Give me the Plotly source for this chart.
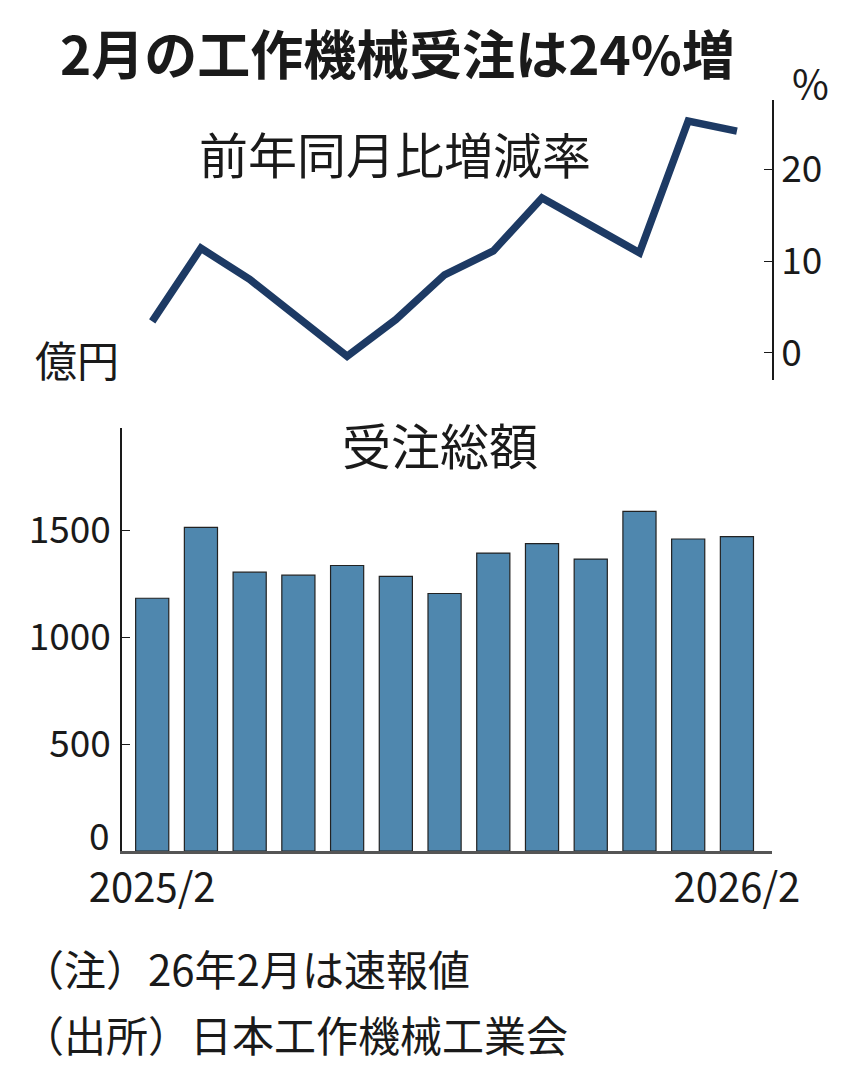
import plotly.graph_objects as go

# 受注総額(億円)と前年同月比増減率(%)
months = ["2025/2", "2025/3", "2025/4", "2025/5", "2025/6", "2025/7", "2025/8",
          "2025/9", "2025/10", "2025/11", "2025/12", "2026/1", "2026/2"]
orders = [1182, 1513, 1304, 1290, 1335, 1284, 1204, 1393, 1437, 1365, 1588, 1459, 1470]
yoy = [3.4, 11.4, 8.0, 3.8, -0.4, 3.6, 8.5, 11.1, 16.9, 13.9, 10.9, 25.3, 24.2]

bar_ticks = [0, 500, 1000, 1500]
line_ticks = [0, 10, 20]

W, H = 850, 1078
OFF = 8  # page body margin
JP = "Noto Sans CJK JP"


def px(x, y):
    return (x - OFF) / W, 1 - (y - OFF) / H


fig = go.Figure()
fig.add_trace(go.Bar(x=months, y=orders, xaxis="x", yaxis="y", width=0.68,
                     marker=dict(color="#4f87ae", line=dict(color="#222222", width=1.2)),
                     showlegend=False))
fig.add_trace(go.Scatter(x=months, y=yoy, xaxis="x2", yaxis="y2", mode="lines",
                         line=dict(color="#1d3a64", width=7.5), showlegend=False))

xdom = [px(122, 0)[0], px(772, 0)[0]]
xrange = [-0.62, 12.72]
tick_font = dict(family=JP, size=37, color="#1a1a1a")

fig.update_layout(
    template="none",
    width=W, height=H,
    margin=dict(l=0, r=0, t=0, b=0, pad=0),
    paper_bgcolor="white", plot_bgcolor="white",
    font=dict(family=JP, color="#1a1a1a"),
    xaxis=dict(domain=xdom, type="category", range=xrange, anchor="y",
               tickmode="array", tickvals=[months[0], months[-1]], automargin=False,
               ticks="", showline=True, linecolor="#555555", linewidth=3,
               showgrid=False, zeroline=False, ticklabelstandoff=0,
               tickfont=dict(family=JP, size=40, color="#1a1a1a")),
    yaxis=dict(domain=[px(0, 851)[1], px(0, 428)[1]], range=[0, 1978], anchor="x",
               tickmode="array", tickvals=bar_ticks,
               ticktext=["" if v == 0 else str(v) for v in bar_ticks],
               ticks="inside", ticklen=8,
               tickcolor="#1a1a1a", showline=True, linecolor="#1a1a1a", linewidth=1.5,
               showgrid=False, zeroline=False, ticklabelstandoff=2, automargin=False,
               tickfont=tick_font),
    xaxis2=dict(domain=xdom, type="category", range=xrange, anchor="y2",
                visible=False, automargin=False),
    yaxis2=dict(domain=[px(0, 380)[1], px(0, 100)[1]], range=[-3, 27.6], anchor="x2",
                side="right", tickmode="array", tickvals=line_ticks,
                ticks="inside", ticklen=8, tickcolor="#1a1a1a", automargin=False,
                showline=True, linecolor="#1a1a1a", linewidth=1.5,
                showgrid=False, zeroline=False, ticklabelstandoff=0,
                tickfont=tick_font),
)

# the "0" of the bar axis sits just above the baseline, as in the original
fig.add_annotation(text="0", xref="paper", yref="y", x=px(112, 0)[0], y=bar_ticks[0],
                   xanchor="right", yanchor="middle", yshift=17, showarrow=False,
                   font=tick_font)

notes = [
    ("<b>2月の工作機械受注は24%増</b>", 58, 52, "left", 53),
    ("%", 810, 82, "center", 40),
    ("前年同月比増減率", 395, 153, "center", 49),
    ("億円", 77, 358, "center", 42),
    ("受注総額", 440, 443, "center", 49),
    ("（注）26年2月は速報値", 20, 967, "left", 42),
    ("（出所）日本工作機械工業会", 20, 1033, "left", 42),
]
for text, x, y, anchor, size in notes:
    ax, ay = px(x, y)
    fig.add_annotation(text=text, x=ax, y=ay, xref="paper", yref="paper",
                       xanchor=anchor, yanchor="middle", showarrow=False,
                       font=dict(family=JP, size=size, color="#1a1a1a"))

fig.write_html("out.html")
